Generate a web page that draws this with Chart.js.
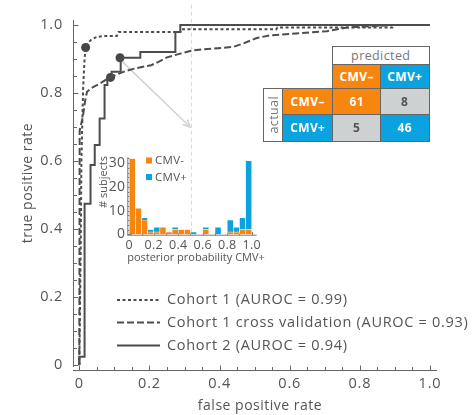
<!DOCTYPE html>
<html><head><meta charset="utf-8">
<script src="https://cdn.jsdelivr.net/npm/chart.js@4.4.1/dist/chart.umd.min.js"></script>
<style>
body{margin:0;background:#fff;}
#wrap{position:relative;width:474px;height:415px;overflow:hidden;font-family:"Open Sans",sans-serif;}
#main{position:absolute;left:0;top:0;}
#hist{position:absolute;left:88px;top:145px;}
.c{position:absolute;box-sizing:border-box;border:1.5px solid #666;display:flex;align-items:center;justify-content:center;font-family:"Open Sans",sans-serif;font-size:12px;letter-spacing:0.4px;font-weight:700;color:#fff;}
.o{background:#F7860F;}
.b{background:#0AA3E0;}
.g{background:#CED1D1;color:#555;}
.w{background:#fff;color:#777;font-weight:400;font-size:12.5px;}
.rot{writing-mode:vertical-rl;transform:rotate(180deg);}
</style>
</head><body>
<div id="wrap">
<canvas id="main" width="474" height="415"></canvas>
<canvas id="hist" width="180" height="125"></canvas>
<div id="cm"></div>
</div>
<script>
// ---------------- DATA ----------------
// ROC curves (false positive rate, true positive rate)
const cohort1Fpr = [0,0.004,0.006,0.008,0.011,0.015,0.018,0.025,0.035,0.05,0.07,0.107,0.112,0.288,0.29,0.562,0.565,0.893,0.897,1.0];
const cohort1Tpr = [0,0.35,0.6,0.69,0.818,0.9,0.934,0.948,0.958,0.965,0.968,0.968,0.98,0.98,0.988,0.988,0.993,0.993,1.0,1.0];

const cvFpr = [0,0.001,0.01,0.017,0.022,0.035,0.05,0.065,0.085,0.108,0.13,0.157,0.19,0.205,0.226,0.25,0.288,0.326,0.382,0.44,0.47,0.506,0.544,0.63,0.706,0.763,0.895,1.0];
const cvTpr = [0,0.69,0.73,0.78,0.804,0.815,0.823,0.832,0.845,0.855,0.864,0.872,0.879,0.882,0.892,0.905,0.916,0.926,0.931,0.936,0.947,0.962,0.97,0.976,0.982,0.993,1.0,1.0];

const cohort2Fpr = [0,0,0.015,0.015,0.032,0.032,0.044,0.044,0.058,0.058,0.072,0.072,0.080,0.080,0.092,0.092,0.118,0.118,0.174,0.174,0.274,0.274,0.288,0.288,1.0];
const cohort2Tpr = [0,0.024,0.024,0.474,0.474,0.588,0.588,0.647,0.647,0.725,0.725,0.824,0.824,0.845,0.845,0.863,0.863,0.904,0.904,0.921,0.921,0.98,0.98,1.0,1.0];

// operating points (dots)
const opFpr = [0.018,0.089,0.116];
const opTpr = [0.934,0.846,0.904];

// threshold line and arrow
const threshFpr = [0.32,0.32];
const threshTpr = [1.06,0.38];
const arrowFpr = [0.121,0.316];
const arrowTpr = [0.894,0.70];

// main axis ticks
const mainMajorTicks = [0,0.2,0.4,0.6,0.8,1.0];
const mainMinorTicks = [0,0.05,0.1,0.15,0.2,0.25,0.3,0.35,0.4,0.45,0.5,0.55,0.6,0.65,0.7,0.75,0.8,0.85,0.9,0.95,1.0];

const legendLabels = ['Cohort 1 (AUROC = 0.99)','Cohort 1 cross validation (AUROC = 0.93)','Cohort 2 (AUROC = 0.94)'];

// histogram (posterior probability CMV+)
const histBins = [0.025,0.075,0.125,0.175,0.225,0.275,0.325,0.375,0.425,0.475,0.525,0.575,0.625,0.675,0.725,0.775,0.825,0.875,0.925,0.975];
const histNeg = [32,11,6,1,1,3,1,2,2,2,0,0,2,0,0,0,1,1,2,2];
const histPos = [0,0,1,1,2,0,0,1,0,0,1,0,1,0,3,0,5,2,5,29];
const histXTicks = [0,0.2,0.4,0.6,0.8,1.0];
const histXMinor = [0,0.1,0.2,0.3,0.4,0.5,0.6,0.7,0.8,0.9,1.0];
const histYTicks = [0,10,20,30];

// confusion matrix
const cmClasses = ['CMV–','CMV+'];
const cmValues = [[61,8],[5,46]];

// ---------------- STYLE ----------------
const INK = '#4d4d4d';
const TXT = '#555';
const ORANGE = '#F7860F';
const BLUE = '#0AA3E0';
const FONT = '"Open Sans", sans-serif';
const pts = (xs, ys) => xs.map((v,i)=>({x:v,y:ys[i]}));

const spacing = (px) => ({
  id:'spacing',
  beforeDraw(chart){ chart.ctx.letterSpacing = px; }
});

const mainDeco = {
  id:'mainDeco',
  beforeDatasetsDraw(chart){
    const {ctx, chartArea:a} = chart; const x=chart.scales.x, y=chart.scales.y;
    ctx.save();
    ctx.strokeStyle='#666'; ctx.lineWidth=1;
    const sx = a.left+0.5, sy = a.bottom-0.5;
    ctx.beginPath();
    ctx.moveTo(sx,a.top); ctx.lineTo(sx,y.getPixelForValue(-0.006));
    ctx.moveTo(a.left,sy); ctx.lineTo(a.right,sy);
    mainMinorTicks.forEach(v=>{
      const major = mainMajorTicks.some(m=>Math.abs(m-v)<1e-9);
      const len = major?5:3.5;
      const py = Math.round(y.getPixelForValue(v))+0.5;
      ctx.moveTo(sx,py); ctx.lineTo(sx+len,py);
      const px = Math.round(x.getPixelForValue(v))+0.5;
      ctx.moveTo(px,sy); ctx.lineTo(px,sy-len);
    });
    ctx.stroke();
    // arrow
    const x1=x.getPixelForValue(arrowFpr[0]), y1=y.getPixelForValue(arrowTpr[0]);
    const x2=x.getPixelForValue(arrowFpr[1]), y2=y.getPixelForValue(arrowTpr[1]);
    ctx.strokeStyle='#d2d2d2'; ctx.lineWidth=1.5;
    ctx.beginPath(); ctx.moveTo(x1,y1); ctx.lineTo(x2,y2); ctx.stroke();
    const ang=Math.atan2(y2-y1,x2-x1), L=8;
    ctx.beginPath();
    ctx.moveTo(x2-L*Math.cos(ang-0.45), y2-L*Math.sin(ang-0.45));
    ctx.lineTo(x2,y2);
    ctx.lineTo(x2-L*Math.cos(ang+0.45), y2-L*Math.sin(ang+0.45));
    ctx.stroke();
    ctx.restore();
  },
  afterDraw(chart){
    const {ctx} = chart;
    ctx.save();
    ctx.fillStyle=TXT; ctx.font='14px '+FONT; ctx.letterSpacing='0.5px';
    ctx.textAlign='center'; ctx.textBaseline='middle';
    ctx.fillText('false positive rate',260,406);
    ctx.save(); ctx.translate(28,183); ctx.rotate(-Math.PI/2);
    ctx.fillText('true positive rate',0,0); ctx.restore();
    // legend
    ctx.font='14.5px '+FONT; ctx.letterSpacing='0.7px';
    const rows=[300,322.5,345.5], dashes=[[3,2.5],[7,3],[]];
    ctx.strokeStyle=INK; ctx.lineWidth=2;
    rows.forEach((ry,i)=>{
      ctx.setLineDash(dashes[i]);
      ctx.beginPath(); ctx.moveTo(117,ry); ctx.lineTo(160,ry); ctx.stroke();
      ctx.setLineDash([]);
      ctx.textAlign='left'; ctx.fillText(legendLabels[i],167,ry);
    });
    ctx.restore();
  }
};

new Chart(document.getElementById('main'), {
  type:'scatter',
  data:{datasets:[
    {data:pts(threshFpr,threshTpr), showLine:true, borderColor:'#d9d9d9', borderWidth:1, borderDash:[4,3], pointRadius:0, clip:false},
    {data:pts(cvFpr,cvTpr), showLine:true, borderColor:INK, borderWidth:2, borderDash:[7,3], pointRadius:0, tension:0},
    {data:pts(cohort1Fpr,cohort1Tpr), showLine:true, borderColor:INK, borderWidth:2, borderDash:[3,2.5], pointRadius:0, tension:0},
    {data:pts(cohort2Fpr,cohort2Tpr), showLine:true, borderColor:INK, borderWidth:2, pointRadius:0, tension:0},
    {data:pts(opFpr,opTpr), showLine:false, pointRadius:4.5, pointBackgroundColor:'#464646', pointBorderWidth:0, clip:false}
  ]},
  options:{
    responsive:false, animation:false, events:[],
    layout:{padding:{left:0,right:37,top:20,bottom:0}},
    plugins:{legend:{display:false}, tooltip:{enabled:false}},
    scales:{
      x:{type:'linear', min:-0.018, max:1.02,
        grid:{display:false,drawTicks:false}, border:{display:false},
        afterBuildTicks:s=>{s.ticks=mainMajorTicks.map(v=>({value:v}));},
        afterFit:s=>{s.height=44;},
        ticks:{autoSkip:false, maxRotation:0, padding:4, color:TXT, font:{family:FONT,size:14.5},
          callback:v=>v===0?'0':Number(v).toFixed(1)}},
      y:{type:'linear', min:-0.018, max:1.015,
        grid:{display:false,drawTicks:false}, border:{display:false},
        afterBuildTicks:s=>{s.ticks=mainMajorTicks.map(v=>({value:v}));},
        afterFit:s=>{s.width=73;},
        ticks:{autoSkip:false, padding:10, color:TXT, font:{family:FONT,size:14.5},
          callback:v=>v===0?'0':Number(v).toFixed(1)}}
    }
  },
  plugins:[spacing('0.8px'), mainDeco]
});

const histDeco = {
  id:'histDeco',
  beforeDatasetsDraw(chart){
    const {ctx, chartArea:a} = chart; const x=chart.scales.x, y=chart.scales.y;
    ctx.save(); ctx.strokeStyle='#777'; ctx.lineWidth=1;
    const sx=a.left+0.5, sy=a.bottom-0.5;
    ctx.beginPath();
    ctx.moveTo(sx,y.getPixelForValue(32.5)); ctx.lineTo(sx,y.getPixelForValue(-0.2));
    ctx.moveTo(a.left,sy); ctx.lineTo(a.right,sy);
    histXMinor.forEach(v=>{const px=Math.round(x.getPixelForValue(v))+0.5; ctx.moveTo(px,sy); ctx.lineTo(px,sy-3);});
    for(let k=0;k<=32;k+=2){const py=Math.round(y.getPixelForValue(k))+0.5; const len=(k%10===0)?4:2; ctx.moveTo(sx,py); ctx.lineTo(sx+len,py);}
    ctx.stroke(); ctx.restore();
  },
  afterDraw(chart){
    const {ctx}=chart;
    ctx.save(); ctx.fillStyle=TXT; ctx.font='11px '+FONT; ctx.letterSpacing='0px'; ctx.textBaseline='middle';
    ctx.textAlign='center';
    ctx.fillText('posterior probability CMV+',108,113);
    ctx.save(); ctx.translate(15.5,37); ctx.rotate(-Math.PI/2); ctx.fillText('# subjects',0,0); ctx.restore();
    // legend
    ctx.fillStyle=ORANGE; ctx.fillRect(58,12.5,6,6);
    ctx.fillStyle=BLUE; ctx.fillRect(58,29,6,6);
    ctx.fillStyle=TXT; ctx.textAlign='left'; ctx.font='11.5px '+FONT; ctx.letterSpacing='0.3px';
    ctx.fillText('CMV-',67,16); ctx.fillText('CMV+',67,32.5);
    ctx.restore();
  }
};

new Chart(document.getElementById('hist'), {
  type:'bar',
  data:{datasets:[
    {data:pts(histBins,histNeg), backgroundColor:ORANGE, borderColor:'rgba(255,255,255,0.7)', borderWidth:0.6, barPercentage:1, categoryPercentage:1},
    {data:pts(histBins,histPos), backgroundColor:BLUE, borderColor:'rgba(255,255,255,0.7)', borderWidth:0.6, barPercentage:1, categoryPercentage:1}
  ]},
  options:{
    responsive:false, animation:false, events:[],
    layout:{padding:{left:0,right:11.4,top:12.3,bottom:0}},
    plugins:{legend:{display:false}, tooltip:{enabled:false}},
    scales:{
      x:{type:'linear', stacked:true, offset:false, min:-0.016, max:1.04,
        grid:{display:false,drawTicks:false}, border:{display:false},
        afterBuildTicks:s=>{s.ticks=histXTicks.map(v=>({value:v}));},
        afterFit:s=>{s.height=34.3;},
        ticks:{autoSkip:false, maxRotation:0, padding:2, color:TXT, font:{family:FONT,size:12.5},
          callback:v=>v===0?'0':Number(v).toFixed(1)}},
      y:{type:'linear', stacked:true, min:-0.6, max:32.5,
        grid:{display:false,drawTicks:false}, border:{display:false},
        afterBuildTicks:s=>{s.ticks=histYTicks.map(v=>({value:v}));},
        afterFit:s=>{s.width=39.3;},
        ticks:{autoSkip:false, padding:2, color:TXT, font:{family:FONT,size:14}}}
    }
  },
  plugins:[spacing('0.3px'), histDeco]
});

// confusion matrix table (HTML text)
const xe=[263,282,332,380,428], ye=[46,64,88,114,140];
const cm=document.getElementById('cm');
function cell(x0,x1,y0,y1,cls,txt){
  const d=document.createElement('div'); d.className='c '+cls;
  d.style.left=xe[x0]+'px'; d.style.top=ye[y0]+'px';
  d.style.width=(xe[x1]-xe[x0]+1.5)+'px'; d.style.height=(ye[y1]-ye[y0]+1.5)+'px';
  if(cls.indexOf('rot')>=0){const s=document.createElement('span'); s.className='rot'; s.textContent=txt; d.classList.remove('rot'); d.appendChild(s);} else d.textContent=txt;
  cm.appendChild(d);
}
cell(2,4,0,1,'w','predicted');
cell(2,3,1,2,'o',cmClasses[0]);
cell(3,4,1,2,'b',cmClasses[1]);
cell(0,1,2,4,'w rot','actual');
cell(1,2,2,3,'o',cmClasses[0]);
cell(1,2,3,4,'b',cmClasses[1]);
const cls=[['o','g'],['g','b']];
for(let r=0;r<2;r++)for(let c=0;c<2;c++) cell(2+c,3+c,2+r,3+r,cls[r][c],String(cmValues[r][c]));
</script>
</body></html>
